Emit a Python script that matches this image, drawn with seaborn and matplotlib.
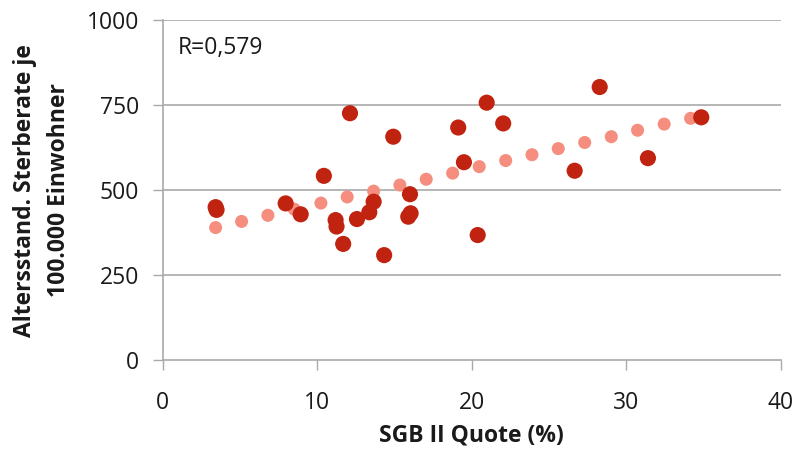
import matplotlib
matplotlib.use("Agg")
import matplotlib.pyplot as plt
import seaborn as sns
import pandas as pd

# Observed districts: SGB II rate (%) vs. age-standardised mortality per 100,000
sgb_quote = [3.43, 3.49, 7.96, 8.93, 10.43, 12.12, 11.19, 11.25, 11.68, 12.57,
             13.37, 13.65, 14.33, 14.92, 16.0, 15.89, 16.04, 19.12, 19.49,
             20.96, 22.03, 20.38, 26.65, 28.27, 31.39, 34.84]
sterberate = [450, 442, 461, 429, 542, 726, 412, 393, 342, 415,
              435, 466, 309, 657, 488, 422, 432, 684, 582,
              757, 696, 368, 557, 803, 594, 714]

# Fitted trend values
trend_x = [3.43, 5.11, 6.81, 8.51, 10.24, 11.94, 13.65, 15.35, 17.05, 18.76,
           20.48, 22.19, 23.89, 25.59, 27.30, 29.02, 30.72, 32.44, 34.15]
trend_y = [390, 408, 426, 444, 462, 480, 497, 515, 532, 550,
           569, 587, 604, 622, 640, 657, 676, 694, 711]

x_ticks = [0, 10, 20, 30, 40]
y_ticks = [0, 250, 500, 750, 1000]
r_label = "R=0,579"

obs = pd.DataFrame({"x": sgb_quote, "y": sterberate})
trend = pd.DataFrame({"x": trend_x, "y": trend_y})

sns.set_theme(style="white")
plt.rcParams["font.family"] = ["Open Sans", "DejaVu Sans"]

fig = plt.figure(figsize=(7.97, 4.54), dpi=100)
ax = fig.add_axes([0.204, 0.2064, 0.776, 0.7496])

grid_c = "#A9A9A9"
text_c = "#1A1A1A"
sns.scatterplot(data=trend, x="x", y="y", ax=ax, s=88, color="#F58E7E",
                edgecolor="none", linewidth=0, zorder=3)
sns.scatterplot(data=obs, x="x", y="y", ax=ax, s=135, color="#C0230F",
                edgecolor="none", linewidth=0, zorder=4)

ax.set_xlim(0, 40)
ax.set_ylim(0, 1000)
ax.set_xticks(x_ticks)
ax.set_yticks(y_ticks)
ax.set_xticklabels([str(v) for v in x_ticks], fontsize=16.5, color=text_c)
ax.set_yticklabels([str(v) for v in y_ticks], fontsize=16.5, color=text_c)

for v in y_ticks[1:]:
    ax.axhline(v, color=grid_c, lw=1.2, zorder=1)

for side in ["top", "right"]:
    ax.spines[side].set_visible(False)
for side in ["left", "bottom"]:
    ax.spines[side].set_color(grid_c)
    ax.spines[side].set_linewidth(1.2)

ax.tick_params(axis="both", which="major", direction="out", length=7,
               width=1.0, color=grid_c, bottom=True, left=True)
ax.tick_params(axis="x", pad=15)
ax.tick_params(axis="y", pad=10)

ax.set_xlabel("SGB II Quote (%)", fontsize=16.5, fontweight="bold",
              color=text_c, labelpad=6)
ax.set_ylabel("Altersstand. Sterberate je\n100.000 Einwohner", fontsize=16.5,
              fontweight="bold", color=text_c, labelpad=11, linespacing=1.55)

ax.text(0.025, 0.918, r_label, transform=ax.transAxes, fontsize=16.5,
        color=text_c, ha="left", va="center")

fig.savefig("out.png", dpi=100)
